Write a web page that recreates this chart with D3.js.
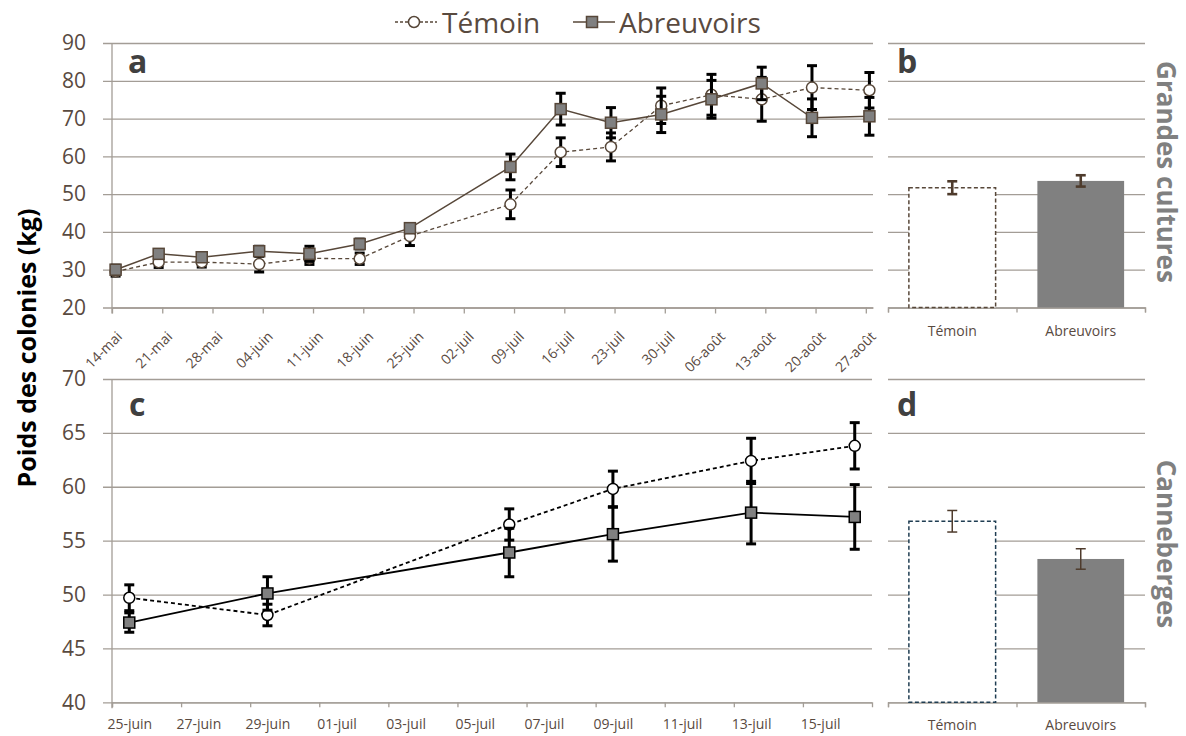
<!DOCTYPE html>
<html>
<head>
<meta charset="utf-8">
<script src="https://cdn.jsdelivr.net/npm/d3@7"></script>
<style>
  body { margin: 0; background: #fff; }
  text { font-family: "Open Sans", sans-serif; }
</style>
</head>
<body>
<svg id="chart" width="1186" height="736"></svg>
<script>
// ---- data: panel a (grandes cultures, weekly weights)
var datesA = ["2017-05-14","2017-05-20","2017-05-26","2017-06-03","2017-06-10","2017-06-17","2017-06-24",
              "2017-07-08","2017-07-15","2017-07-22","2017-07-29","2017-08-05","2017-08-12","2017-08-19","2017-08-27"];
var temoinA       = [29.5, 32.0, 32.0, 31.5, 33.0, 32.9, 38.9, 47.3, 61.1, 62.5, 73.4, 76.3, 75.1, 78.2, 77.5];
var temoinAErr    = [1.2, 1.4, 1.3, 2.1, 1.6, 1.5, 2.5, 3.8, 3.8, 3.7, 4.7, 5.4, 5.8, 5.8, 4.7];
var abreuvoirsA   = [30.0, 34.2, 33.3, 34.9, 34.2, 36.8, 41.0, 57.2, 72.5, 68.9, 71.1, 75.1, 79.3, 70.2, 70.6];
var abreuvoirsAErr= [1.2, 1.0, 1.0, 1.3, 2.0, 1.3, 1.2, 3.4, 4.2, 4.0, 4.8, 5.0, 4.3, 5.0, 5.0];
var ticksA = ["2017-05-14","2017-05-21","2017-05-28","2017-06-04","2017-06-11","2017-06-18","2017-06-25","2017-07-02",
              "2017-07-09","2017-07-16","2017-07-23","2017-07-30","2017-08-06","2017-08-13","2017-08-20","2017-08-27"];
var yTicksA = [20, 30, 40, 50, 60, 70, 80, 90];

// ---- data: panel c (canneberges)
var datesC = ["2017-06-25","2017-06-29","2017-07-06","2017-07-09","2017-07-13","2017-07-16"];
var temoinC        = [49.7, 48.1, 56.5, 59.8, 62.4, 63.8];
var temoinCErr     = [1.2, 1.0, 1.45, 1.65, 2.1, 2.15];
var abreuvoirsC    = [47.4, 50.1, 53.9, 55.6, 57.6, 57.2];
var abreuvoirsCErr = [0.9, 1.55, 2.25, 2.5, 2.9, 3.0];
var ticksC = ["2017-06-25","2017-06-27","2017-06-29","2017-07-01","2017-07-03","2017-07-05",
              "2017-07-07","2017-07-09","2017-07-11","2017-07-13","2017-07-15"];
var yTicksC = [40, 45, 50, 55, 60, 65, 70];

// ---- data: panels b and d (means)
var barLabels = ["Témoin", "Abreuvoirs"];
var barsB    = [51.7, 53.5];
var barsBErr = [1.7, 1.5];
var barsD    = [56.8, 53.3];
var barsDErr = [1.0, 0.95];

var mois = ["janv","févr","mars","avr","mai","juin","juil","août","sept","oct","nov","déc"];
var parse = d3.utcParse("%Y-%m-%d");
var halfDay = 12 * 3600 * 1000;
function frDate(d){ return d3.utcFormat("%d")(d) + "-" + mois[d.getUTCMonth()]; }

var gridColor = "#a39d96";
var textColor = "#594a3f";
var brown = "#574739";

var svg = d3.select("#chart");

// scales
var xA = d3.scaleUtc().domain([parse("2017-05-14"), parse("2017-08-28")]).range([112, 873]);
var yA = d3.scaleLinear().domain([20, 90]).range([307.5, 43]);
var xC = d3.scaleUtc().domain([parse("2017-06-25"), parse("2017-07-17")]).range([112, 872]);
var yC = d3.scaleLinear().domain([40, 70]).range([702.3, 379]);
var xBar = d3.scaleBand().domain(barLabels).range([888, 1145]).paddingInner(0.325).paddingOuter(0.1625);

// gridlines + y axis of the line panels
function leftAxis(y, left, right, ticks, labels){
  var g = svg.append("g").attr("transform", "translate(" + left + ",0)")
    .call(d3.axisLeft(y).tickValues(ticks).tickSize(-(right - left)).tickPadding(26)
      .tickFormat(labels ? d3.format("d") : ""));
  g.select(".domain").remove();
  g.selectAll(".tick line").attr("stroke", gridColor).attr("stroke-width", 1.3);
  if (labels) {
    g.selectAll(".tick line").attr("x1", -9);
    g.selectAll(".tick text").attr("fill", textColor).style("font-size", "21px");
    svg.append("line")
      .attr("x1", left).attr("x2", left)
      .attr("y1", y.range()[1]).attr("y2", y.range()[0] + 6)
      .attr("stroke", gridColor).attr("stroke-width", 1.3);
  }
}

leftAxis(yA, 112, 873, yTicksA, true);
leftAxis(yA, 888, 1145, yTicksA, false);
leftAxis(yC, 112, 872, yTicksC, true);
leftAxis(yC, 888, 1145, yTicksC, false);

// x axis panel a (rotated labels)
var gxa = svg.append("g").attr("transform", "translate(0," + yA(20) + ")")
  .call(d3.axisBottom(xA).tickValues(ticksA.map(parse)).tickSize(6).tickSizeOuter(0).tickFormat(""));
gxa.select(".domain").attr("stroke", gridColor).attr("stroke-width", 1.3);
gxa.selectAll(".tick line").attr("stroke", gridColor).attr("stroke-width", 1.3);
svg.append("g").selectAll("text")
  .data(ticksA.map(parse))
  .join("text")
  .attr("transform", function(d){ return "translate(" + (xA(d) + 11) + "," + (yA(20) + 30) + ") rotate(-45)"; })
  .attr("text-anchor", "end")
  .attr("fill", textColor)
  .style("font-size", "14px")
  .text(frDate);

// x axis panel c (labels centred on the day)
var gxc = svg.append("g").attr("transform", "translate(0," + yC(40) + ")")
  .call(d3.axisBottom(xC).tickValues(ticksC.map(parse)).tickSize(5).tickSizeOuter(5).tickPadding(12).tickFormat(frDate));
gxc.select(".domain").attr("stroke", gridColor).attr("stroke-width", 1.3);
gxc.selectAll(".tick line").attr("stroke", gridColor).attr("stroke-width", 1.3);
gxc.selectAll(".tick text")
  .attr("x", (xC(parse("2017-06-26")) - xC(parse("2017-06-25"))) / 2)
  .attr("fill", textColor).style("font-size", "14px").style("font-family", "Open Sans");

// bottom axes of bar panels
var xBarTicks = d3.scaleLinear().domain([0, 2]).range([888, 1145]);
[yA(20), yC(40)].forEach(function(yy){
  var g = svg.append("g").attr("transform", "translate(0," + yy + ")")
    .call(d3.axisBottom(xBarTicks).tickValues([0, 1, 2]).tickSize(5).tickSizeOuter(5).tickFormat(""));
  g.select(".domain").attr("stroke", gridColor).attr("stroke-width", 1.3);
  g.selectAll(".tick line").attr("stroke", gridColor).attr("stroke-width", 1.3);
  svg.append("g").selectAll("text").data(barLabels).join("text")
    .attr("x", function(d){ return xBar(d) + xBar.bandwidth() / 2; })
    .attr("y", yy + 28)
    .attr("text-anchor", "middle")
    .attr("fill", textColor)
    .style("font-size", "14px")
    .text(function(d){ return d; });
});

// line panels
function drawSeries(x, y, dates, vals, errs, opts){
  var pts = dates.map(function(d, i){ return {x: x(new Date(+parse(d) + halfDay)), v: vals[i], e: errs[i]}; });
  var g = svg.append("g");
  // error bars
  pts.forEach(function(p){
    g.append("line").attr("x1", p.x).attr("x2", p.x)
      .attr("y1", y(p.v - p.e)).attr("y2", y(p.v + p.e))
      .attr("stroke", "#000").attr("stroke-width", 3);
    [p.v - p.e, p.v + p.e].forEach(function(v){
      g.append("line").attr("x1", p.x - 5).attr("x2", p.x + 5)
        .attr("y1", y(v)).attr("y2", y(v))
        .attr("stroke", "#000").attr("stroke-width", 3);
    });
  });
  return {g: g, pts: pts, y: y, opts: opts};
}

function drawLineAndMarkers(s){
  var y = s.y, o = s.opts;
  s.g.append("path")
    .datum(s.pts)
    .attr("fill", "none")
    .attr("stroke", o.color)
    .attr("stroke-width", o.width)
    .attr("stroke-dasharray", o.dashed ? "4,3" : null)
    .attr("d", d3.line().x(function(p){ return p.x; }).y(function(p){ return y(p.v); }));
  if (o.marker === "circle") {
    s.g.selectAll("circle").data(s.pts).join("circle")
      .attr("cx", function(p){ return p.x; })
      .attr("cy", function(p){ return y(p.v); })
      .attr("r", 5.5)
      .attr("fill", "#fff").attr("stroke", o.color).attr("stroke-width", 1.5);
  } else {
    s.g.selectAll("rect").data(s.pts).join("rect")
      .attr("x", function(p){ return p.x - 5.5; })
      .attr("y", function(p){ return y(p.v) - 5.5; })
      .attr("width", 11).attr("height", 11)
      .attr("fill", "#808080").attr("stroke", o.color).attr("stroke-width", 1.5);
  }
}

var sAT = drawSeries(xA, yA, datesA, temoinA, temoinAErr, {color: brown, width: 1.3, dashed: true, marker: "circle"});
var sAA = drawSeries(xA, yA, datesA, abreuvoirsA, abreuvoirsAErr, {color: brown, width: 1.5, dashed: false, marker: "square"});
drawLineAndMarkers(sAT);
drawLineAndMarkers(sAA);

var sCT = drawSeries(xC, yC, datesC, temoinC, temoinCErr, {color: "#000", width: 1.8, dashed: true, marker: "circle"});
var sCA = drawSeries(xC, yC, datesC, abreuvoirsC, abreuvoirsCErr, {color: "#000", width: 1.8, dashed: false, marker: "square"});
drawLineAndMarkers(sCT);
drawLineAndMarkers(sCA);

// bar panels
function drawBars(y, vals, errs, temoinStroke, errWidth){
  var g = svg.append("g");
  g.selectAll("rect").data(barLabels).join("rect")
    .attr("x", function(d){ return xBar(d); })
    .attr("y", function(d, i){ return y(vals[i]); })
    .attr("width", xBar.bandwidth())
    .attr("height", function(d, i){ return y.range()[0] - y(vals[i]); })
    .attr("fill", function(d, i){ return i === 0 ? "#fff" : "#808080"; })
    .attr("stroke", function(d, i){ return i === 0 ? temoinStroke : "none"; })
    .attr("stroke-width", 1.5)
    .attr("stroke-dasharray", "4,2.5");
  barLabels.forEach(function(d, i){
    var cx = xBar(d) + xBar.bandwidth() / 2;
    g.append("line").attr("x1", cx).attr("x2", cx)
      .attr("y1", y(vals[i] - errs[i])).attr("y2", y(vals[i] + errs[i]))
      .attr("stroke", "#4e3b2c").attr("stroke-width", errWidth);
    [vals[i] - errs[i], vals[i] + errs[i]].forEach(function(v){
      g.append("line").attr("x1", cx - 5).attr("x2", cx + 5)
        .attr("y1", y(v)).attr("y2", y(v))
        .attr("stroke", "#4e3b2c").attr("stroke-width", errWidth);
    });
  });
}
drawBars(yA, barsB, barsBErr, brown, 2.6);
drawBars(yC, barsD, barsDErr, "#1f3d52", 1.5);

// panel letters
[["a", 128, 73], ["b", 897, 73], ["c", 129, 416], ["d", 897, 416]].forEach(function(l){
  svg.append("text").attr("x", l[1]).attr("y", l[2])
    .attr("fill", "#404040").style("font-size", "32px").style("font-weight", 700)
    .text(l[0]);
});

// side titles
[["Grandes cultures", 172], ["Canneberges", 544]].forEach(function(t){
  svg.append("text")
    .attr("transform", "translate(1157," + t[1] + ") rotate(90)")
    .attr("text-anchor", "middle")
    .attr("fill", "#808080")
    .style("font-size", "26px").style("font-weight", 700)
    .text(t[0]);
});

// y title
svg.append("text")
  .attr("transform", "translate(36,348) rotate(-90)")
  .attr("text-anchor", "middle")
  .attr("fill", "#000")
  .style("font-size", "25px").style("font-weight", 700)
  .text("Poids des colonies (kg)");

// legend
var lg = svg.append("g");
lg.append("line").attr("x1", 395).attr("x2", 437).attr("y1", 22).attr("y2", 22)
  .attr("stroke", brown).attr("stroke-width", 1.3).attr("stroke-dasharray", "3,2");
lg.append("circle").attr("cx", 414).attr("cy", 22).attr("r", 5.5)
  .attr("fill", "#fff").attr("stroke", brown).attr("stroke-width", 1.5);
lg.append("text").attr("x", 442).attr("y", 33).attr("fill", textColor)
  .style("font-size", "28px").text("Témoin");
lg.append("line").attr("x1", 573).attr("x2", 615).attr("y1", 22).attr("y2", 22)
  .attr("stroke", brown).attr("stroke-width", 1.5);
lg.append("rect").attr("x", 586.5).attr("y", 16.5).attr("width", 11).attr("height", 11)
  .attr("fill", "#808080").attr("stroke", brown).attr("stroke-width", 1.5);
lg.append("text").attr("x", 619).attr("y", 33).attr("fill", textColor)
  .style("font-size", "28px").text("Abreuvoirs");
</script>
</body>
</html>
